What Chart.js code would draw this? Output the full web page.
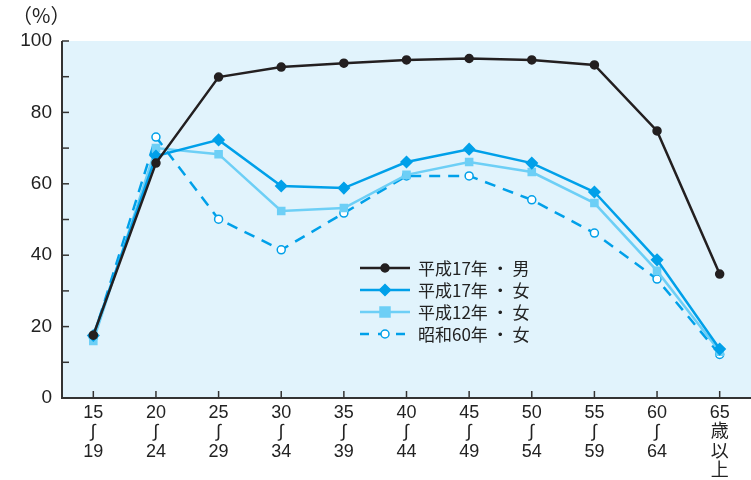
<!DOCTYPE html>
<html>
<head>
<meta charset="utf-8">
<script src="https://cdn.jsdelivr.net/npm/chart.js@4"></script>
<style>
  html, body { margin: 0; padding: 0; background: #fff; overflow: hidden; }
  #wrap { width: 751px; height: 480px; position: relative; }
</style>
</head>
<body>
<div id="wrap"><canvas id="chart"></canvas></div>
<script>
// age groups
const ageLabels = [
    ['15', '∫', '19'], ['20', '∫', '24'], ['25', '∫', '29'], ['30', '∫', '34'],
    ['35', '∫', '39'], ['40', '∫', '44'], ['45', '∫', '49'], ['50', '∫', '54'],
    ['55', '∫', '59'], ['60', '∫', '64'], ['65', '歳', '以', '上']
];
const maleH17 = [17.6, 65.8, 89.9, 92.7, 93.8, 94.7, 95.1, 94.7, 93.3, 74.8, 34.7];
const femaleH17 = [17.5, 67.8, 72.3, 59.4, 58.8, 66.1, 69.7, 65.8, 57.7, 38.7, 13.7];
const femaleH12 = [16.0, 70.0, 68.3, 52.4, 53.2, 62.5, 66.1, 63.3, 54.6, 35.6, 13.0];
const femaleS60 = [17.0, 73.1, 50.1, 41.5, 51.8, 62.2, 62.2, 55.5, 46.2, 33.3, 12.2];
const yTicks = [0, 20, 40, 60, 80, 100];

const BLACK = '#231f20';
const BLUE = '#00a0e9';
const LIGHT = '#6dcff6';
const FONT = '"Liberation Sans", Arial, sans-serif';
const CJK = '"Noto Sans CJK JP", "Liberation Sans", sans-serif';

const series = [
    { label: '平成17年・男', data: maleH17, color: BLACK, style: 'circle', fill: BLACK, r: 4, dash: [] },
    { label: '平成17年・女', data: femaleH17, color: BLUE, style: 'rectRot', fill: BLUE, r: 5.5, dash: [] },
    { label: '平成12年・女', data: femaleH12, color: LIGHT, style: 'rect', fill: LIGHT, r: 5, dash: [] },
    { label: '昭和60年・女', data: femaleS60, color: BLUE, style: 'circle', fill: '#ffffff', r: 4, dash: [11, 8] }
];

// light blue plot background, inside ticks, (%) label and legend
const decor = {
    id: 'decor',
    beforeDraw(chart) {
        const { ctx, chartArea: a } = chart;
        ctx.save();
        ctx.fillStyle = '#e1f3fc';
        ctx.fillRect(a.left, a.top, a.right - a.left, a.bottom - a.top);
        ctx.restore();
    },
    afterDatasetsDraw(chart) {
        const { ctx, chartArea: a, scales } = chart;
        ctx.save();
        // axes
        ctx.strokeStyle = '#333';
        ctx.lineWidth = 2;
        ctx.beginPath();
        ctx.moveTo(a.left, a.top);
        ctx.lineTo(a.left, a.bottom);
        ctx.lineTo(a.right, a.bottom);
        ctx.stroke();
        // inside ticks
        ctx.lineWidth = 1.5;
        for (let v = 0; v <= 100; v += 10) {
            const y = scales.y.getPixelForValue(v);
            ctx.beginPath();
            ctx.moveTo(a.left, y);
            ctx.lineTo(a.left + 7, y);
            ctx.stroke();
        }
        ageLabels.forEach((l, i) => {
            const x = scales.x.getPixelForValue(i);
            ctx.beginPath();
            ctx.moveTo(x, a.bottom);
            ctx.lineTo(x, a.bottom - 7);
            ctx.stroke();
        });
        // unit
        ctx.fillStyle = '#222';
        ctx.font = '20px ' + CJK;
        ctx.textBaseline = 'middle';
        ctx.fillText('（%）', 12, 15);
        // legend
        const lx = 360, ly = 268, gap = 22;
        series.forEach((s, i) => {
            const y = ly + i * gap;
            ctx.strokeStyle = s.color;
            ctx.lineWidth = 2.5;
            ctx.setLineDash(s.dash.length ? [9, 9] : []);
            ctx.beginPath();
            ctx.moveTo(lx, y);
            ctx.lineTo(lx + 50, y);
            ctx.stroke();
            ctx.setLineDash([]);
            ctx.fillStyle = s.fill;
            ctx.strokeStyle = s.color;
            ctx.beginPath();
            if (s.style === 'circle') {
                ctx.arc(lx + 25, y, s.r, 0, Math.PI * 2);
            } else if (s.style === 'rect') {
                ctx.rect(lx + 25 - s.r, y - s.r, s.r * 2, s.r * 2);
            } else {
                ctx.moveTo(lx + 25, y - s.r);
                ctx.lineTo(lx + 25 + s.r, y);
                ctx.lineTo(lx + 25, y + s.r);
                ctx.lineTo(lx + 25 - s.r, y);
                ctx.closePath();
            }
            ctx.fill();
            ctx.lineWidth = 1.5;
            ctx.stroke();
            ctx.fillStyle = '#222';
            ctx.font = '17px ' + CJK;
            ctx.fillText(s.label.replace('・', ' ・ '), lx + 58, y + 1);
        });
        ctx.restore();
    }
};

new Chart(document.getElementById('chart'), {
    type: 'line',
    data: {
        labels: ageLabels,
        datasets: series.map(s => ({
            label: s.label,
            data: s.data,
            borderColor: s.color,
            backgroundColor: s.fill,
            pointBorderColor: s.color,
            pointBackgroundColor: s.fill,
            pointStyle: s.style,
            pointRadius: s.r,
            pointBorderWidth: 1.5,
            borderWidth: 2.5,
            borderDash: s.dash,
            tension: 0,
            clip: false
        }))
    },
    options: {
        responsive: true,
        maintainAspectRatio: false,
        animation: false,
        layout: { autoPadding: false, padding: { top: 41, right: 0, left: 0, bottom: 0 } },
        plugins: { legend: { display: false }, tooltip: { enabled: false } },
        scales: {
            x: {
                offset: true,
                grid: { display: false, drawTicks: false },
                border: { display: false },
                ticks: {
                    color: '#222',
                    font: { family: FONT + ', ' + CJK, size: 18, lineHeight: 1.08 },
                    maxRotation: 0,
                    autoSkip: false,
                    padding: 5
                },
                afterFit(scale) {
                    scale.height = 82;
                    scale.paddingLeft = 0;
                    scale.paddingRight = 0;
                }
            },
            y: {
                min: 0,
                max: 100,
                grid: { display: false, drawTicks: false },
                border: { display: false },
                afterBuildTicks(scale) { scale.ticks = yTicks.map(v => ({ value: v })); },
                ticks: {
                    color: '#222',
                    font: { family: FONT, size: 19 },
                    padding: 10
                },
                afterFit(scale) { scale.width = 62; }
            }
        }
    },
    plugins: [decor]
});
</script>
</body>
</html>
